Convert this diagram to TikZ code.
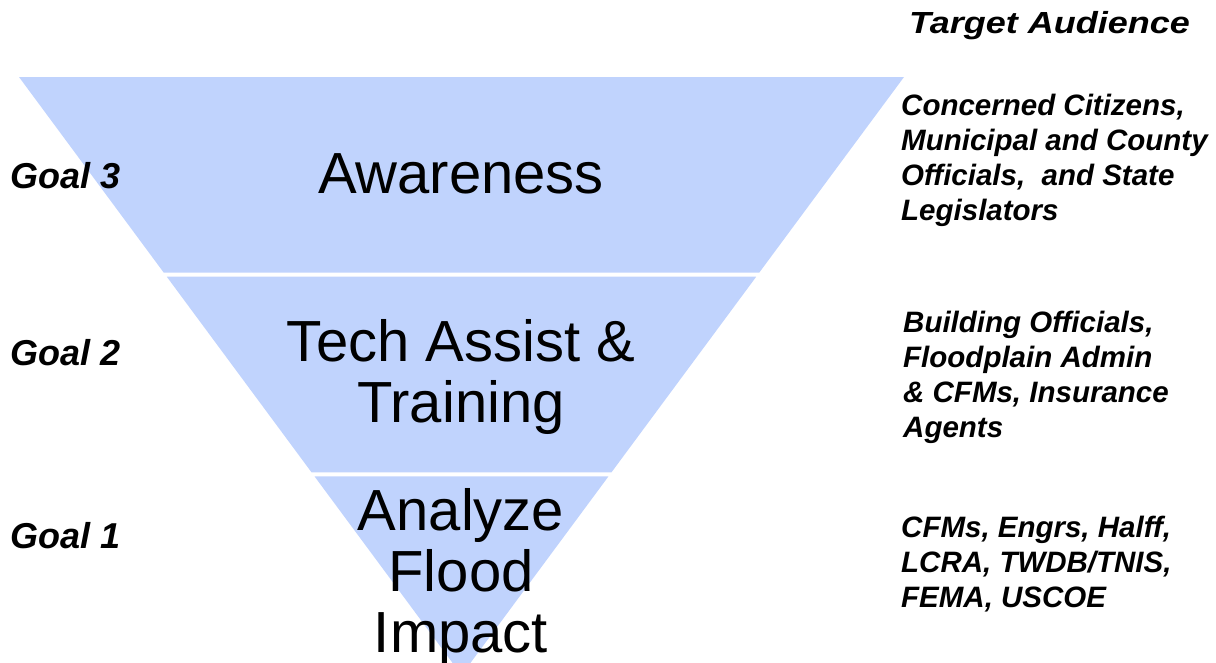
\documentclass[tikz,border=0pt]{standalone}
\usepackage{fontspec}
\setmainfont{Liberation Sans}
\usetikzlibrary{calc}
\definecolor{bandblue}{RGB}{192,211,253}

\begin{document}
\begin{tikzpicture}[x=1pt, y=-1pt,
    band/.style={fill=bandblue, draw=none},
    level_text/.style={font=\fontsize{58}{61}\selectfont, align=center, anchor=base, inner sep=0pt},
    goal_text/.style={font=\fontsize{36}{40}\selectfont\bfseries\itshape, anchor=base west, inner sep=0pt},
    audience_text/.style={font=\fontsize{29.5}{35}\selectfont\bfseries\itshape, align=left, anchor=base west, inner sep=0pt}
]
\useasboundingbox (0,0) rectangle (1216,662);

% Define the corners of the funnel
\coordinate (tl) at (19, 77);
\coordinate (tr) at (904, 77);
\coordinate (apex) at (461.5, 675);

% Draw the three bands, top to bottom
\begin{scope}
\clip (0,0) rectangle (1216,662);
\fill[band] (tl) -- (tr) -- ($(tr)!0.327!(apex)$) -- ($(tl)!0.327!(apex)$) -- cycle;
\fill[band] ($(tl)!0.334!(apex)$) -- ($(tr)!0.334!(apex)$) -- ($(tr)!0.661!(apex)$) -- ($(tl)!0.661!(apex)$) -- cycle;
\fill[band] ($(tl)!0.668!(apex)$) -- ($(tr)!0.668!(apex)$) -- (apex) -- cycle;
\end{scope}

% Band labels (anchored at the baseline of the last line)
\node[level_text] (aware) at (461, 193) {Awareness};
\node[level_text] (tech) at (461, 422) {Tech Assist \&\\Training};
\node[level_text] (analyze) at (461, 652) {Analyze\\Flood\\Impact};

% Goals on the left
\node[goal_text] (goal3) at (10, 188) {Goal 3};
\node[goal_text] (goal2) at (10, 365) {Goal 2};
\node[goal_text] (goal1) at (10, 548) {Goal 1};

% Target audience on the right
\node[goal_text, font=\fontsize{30.5}{36}\selectfont\bfseries\itshape] (target) at (909, 33) {\scalebox{1.18}[1]{Target Audience}};
\node[audience_text] (aud3) at (901, 220) {Concerned Citizens,\\Municipal and County\\Officials,\ \ and State\\Legislators};
\node[audience_text] (aud2) at (903, 437) {Building Officials,\\Floodplain Admin\\\& CFMs,\ Insurance\\Agents};
\node[audience_text] (aud1) at (901, 607) {CFMs, Engrs, Halff,\\LCRA, TWDB/TNIS,\\FEMA, USCOE};

\end{tikzpicture}
\end{document}
